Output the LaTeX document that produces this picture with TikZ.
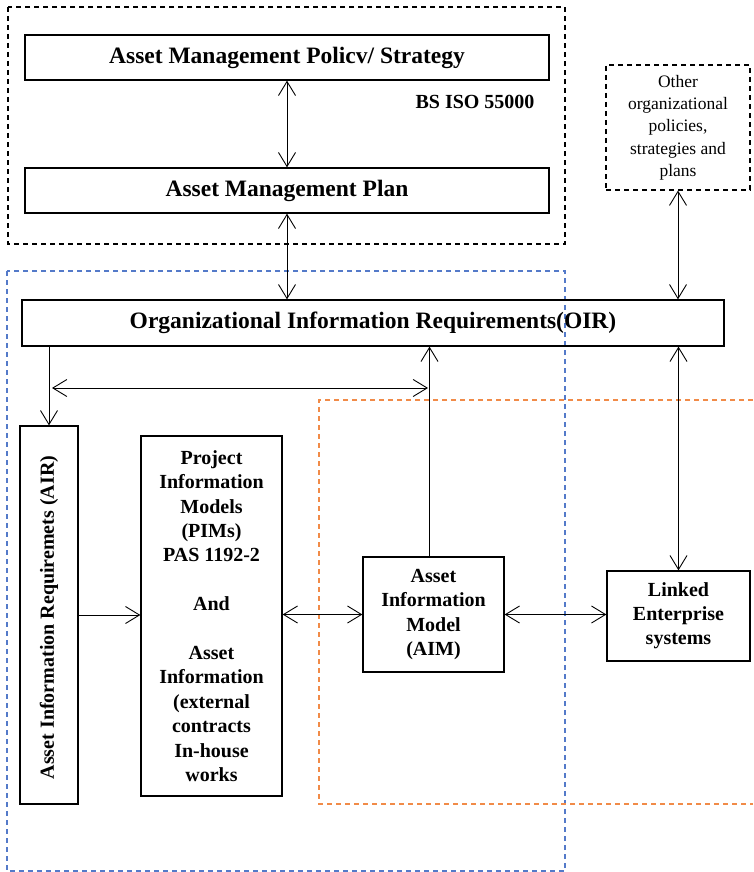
\documentclass[tikz,border=0pt]{standalone}
\usepackage{fontspec}
\setmainfont{Liberation Serif}
\usepackage{tikz}
\usetikzlibrary{arrows.meta}

\definecolor{isoblue}{RGB}{84,122,201}
\definecolor{aimorange}{RGB}{241,139,72}

\tikzset{
  box/.style={draw,line width=1.3pt,inner sep=0pt,align=center,
    font=\fontsize{20}{24.2}\selectfont\bfseries},
  titlebox/.style={box,font=\fontsize{23.5}{28}\selectfont\bfseries},
  frame/.style={line width=1.1pt,dash pattern=on 5pt off 4pt},
  flow/.style={line width=0.9pt,-{Straight Barb[length=14pt,width=17pt]}},
  twoway/.style={line width=0.9pt,{Straight Barb[length=14pt,width=17pt]}-{Straight Barb[length=14pt,width=17pt]}}
}

\begin{document}
\begin{tikzpicture}[x=1pt,y=-1pt]
  \useasboundingbox (0,0) rectangle (753,872);
  \draw[frame] (8,7) rectangle (565,244);
  \draw[frame,isoblue] (7,271) rectangle (565,871);
  \draw[frame,aimorange] (753,400) -- (319,400) -- (319,804) -- (753,804);

  \node[titlebox,minimum width=524pt,minimum height=45pt] (policy) at (287,57.5) {Asset Management Policv/ Strategy};
  \node[titlebox,minimum width=524pt,minimum height=45pt] (plan) at (287,190.5) {Asset Management Plan};
  \node[font=\fontsize{20}{24}\selectfont\bfseries] (bsiso) at (475,102) {BS ISO 55000};
  \node[frame,draw,minimum width=144pt,minimum height=125pt,align=center,inner sep=0pt,
    font=\fontsize{17.5}{22.3}\selectfont] (other) at (678,127.5)
    {Other\\organizational\\policies,\\strategies and\\plans};
  \node[titlebox,minimum width=702pt,minimum height=46pt] (oir) at (373,323) {Organizational Information Requirements(OIR)};

  \node[box,minimum width=58pt,minimum height=378pt] (air) at (49,615) {};
  \node[font=\fontsize{20}{24}\selectfont\bfseries,rotate=90] (airtext) at (49,617.5) {Asset Information Requiremets (AIR)};
  \node[box,minimum width=141pt,minimum height=360pt,font=\fontsize{20}{24.4}\selectfont\bfseries] (pim) at (211.5,616)
    {Project\\Information\\Models\\(PIMs)\\PAS 1192-2\\[24.4pt]And\\[24.4pt]Asset\\Information\\(external\\contracts\\In-house\\works};
  \node[box,minimum width=141pt,minimum height=115pt] (aim) at (433.5,614.5) {Asset\\Information\\Model\\(AIM)};
  \node[box,minimum width=143pt,minimum height=90pt] (linked) at (678.5,616) {Linked\\Enterprise\\systems};

  \coordinate (oirleft) at (52,388);
  \coordinate (oirmid) at (428,388);

  \draw[twoway] (policy) -- (plan);
  \draw[twoway] (plan.south) -- (plan.south |- oir.north);
  \draw[twoway] (other.south) -- (other.south |- oir.north);
  \draw[flow] (air.north |- oir.south) -- (air.north);
  \draw[twoway] (oirleft) -- (oirmid);
  \draw[flow] ([xshift=-4pt]aim.north) -- ([xshift=-4pt]aim.north |- oir.south);
  \draw[twoway] (linked.north |- oir.south) -- (linked.north);
  \draw[flow] (air.east) -- (air.east -| pim.west);
  \draw[twoway] (aim.west -| pim.east) -- (aim.west);
  \draw[twoway] (aim.east) -- (aim.east -| linked.west);
\end{tikzpicture}
\end{document}
